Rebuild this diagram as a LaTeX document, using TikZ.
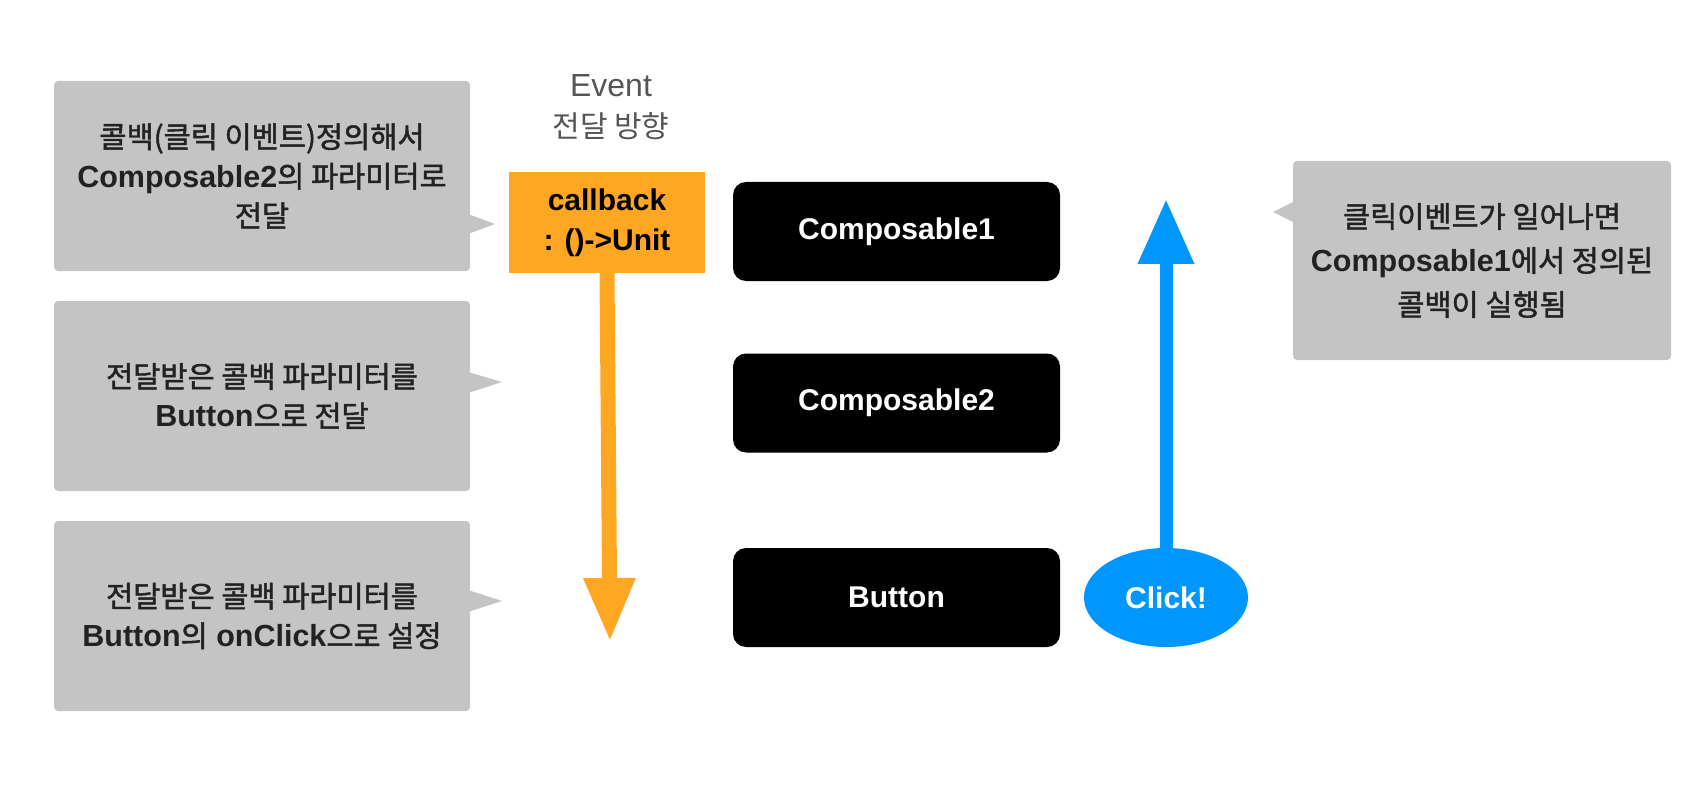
\documentclass[tikz,border=0pt]{standalone}
\usepackage{fontspec}
\setmainfont{Liberation Sans}
\newfontfamily\krfont{Noto Sans CJK KR}[FakeBold=1.6]
\newfontfamily\krplain{Noto Sans CJK KR}
\newcommand{\K}[1]{{\krfont\mdseries\fontsize{29.5}{39.5}\selectfont #1}}
\usetikzlibrary{arrows.meta,shapes.geometric}
\definecolor{gbox}{HTML}{C4C4C4}
\definecolor{gtext}{HTML}{222222}
\definecolor{orng}{HTML}{FFA623}
\definecolor{blu}{HTML}{0096FF}
\definecolor{evt}{HTML}{555555}
\begin{document}
\begin{tikzpicture}[x=1pt,y=-1pt,
  note/.style={fill=gbox, rounded corners=4pt, minimum width=416pt, minimum height=190pt,
    inner sep=0pt, align=center, text=gtext, font=\fontsize{30.5}{39.5}\selectfont\bfseries},
  rnote/.style={note, minimum width=378pt, minimum height=199pt, font=\fontsize{30.5}{44}\selectfont\bfseries},
  comp/.style={fill=black, rounded corners=13pt, minimum width=327pt, minimum height=99pt,
    inner sep=0pt, text=white, font=\fontsize{30}{36}\selectfont\bfseries},
  pointer/.style={fill=gbox},
  evlabel/.style={text=evt, inner sep=0pt}
]
\useasboundingbox (0,0) rectangle (1688,810);

% left notes
\node[note] (n1) at (262,176) {\K{콜백(클릭 이벤트)정의해서}\\Composable2\K{의 파라미터로}\\\K{전달}};
\fill[pointer] (468,214) -- (495,224) -- (468,234) -- cycle;
\node[note] (n2) at (262,396) {\K{전달받은 콜백 파라미터를}\\Button\K{으로 전달}};
\fill[pointer] (468,372) -- (502,382) -- (468,393) -- cycle;
\node[note] (n3) at (262,616) {\K{전달받은 콜백 파라미터를}\\Button\K{의} onClick\K{으로 설정}};
\fill[pointer] (468,590) -- (502,601) -- (468,612) -- cycle;

% right note
\node[rnote] (n4) at (1482,260.5) {\K{클릭이벤트가 일어나면}\\Composable1\K{에서 정의된}\\\K{콜백이 실행됨}};
\fill[pointer] (1295,201) -- (1273,212) -- (1295,223) -- cycle;

% event label
\node[evlabel, font=\fontsize{32}{38}\selectfont] (ev1) at (611,86) {Event};
\node[evlabel, font=\krplain\fontsize{30}{36}\selectfont] (ev2) at (611,126) {전달 방향};

% callback box
\node[fill=orng, minimum width=196pt, minimum height=101pt, inner sep=0pt, align=center,
  font=\fontsize{30}{40}\selectfont\bfseries] (cb) at (607,222.5) {callback\\: ()->Unit};

% composables
\node[comp] (c1) at (896.5,231.5) {Composable1};
\node[comp] (c2) at (896.5,403) {Composable2};
\node[comp] (bt) at (896.5,597.5) {Button};

% click ellipse
\node[ellipse, fill=blu, minimum width=164pt, minimum height=99pt, inner sep=0pt, text=white,
  font=\fontsize{30}{36}\selectfont\bfseries] (ck) at (1166,597.5) {Click!};

% arrows
\coordinate (otip) at (610,642);
\draw[orng, line width=15pt, -{Triangle[length=64pt,width=48pt]}] (cb.south) -- (otip);
\coordinate (btip) at (1166,199);
\draw[blu, line width=13pt, -{Triangle[length=65pt,width=53pt]}] (ck.north) -- (btip);
\end{tikzpicture}
\end{document}
